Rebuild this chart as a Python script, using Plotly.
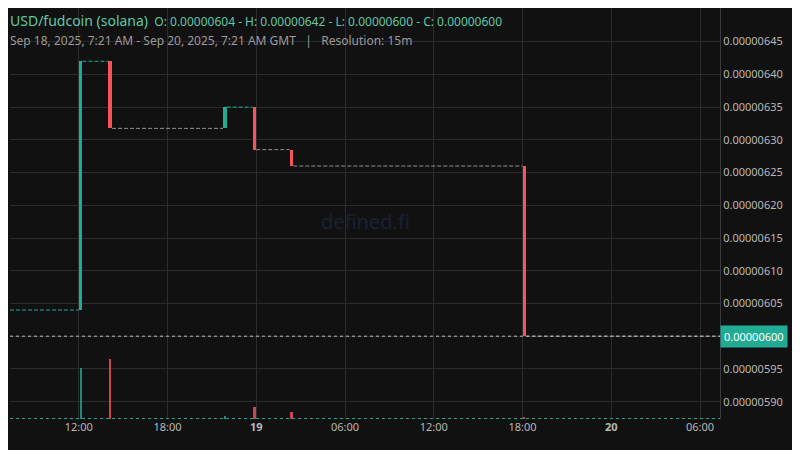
import plotly.graph_objects as go
import pandas as pd

# change candles (15m resolution)
c_time = ["2025-09-18 12:00", "2025-09-18 14:00", "2025-09-18 21:45", "2025-09-18 23:45",
          "2025-09-19 02:15", "2025-09-19 18:00"]
c_open = [6.04e-6, 6.42e-6, 6.3175e-6, 6.35e-6, 6.285e-6, 6.26e-6]
c_close = [6.42e-6, 6.3175e-6, 6.35e-6, 6.285e-6, 6.26e-6, 6.00e-6]
c_vol = [50, 59, 3, 12, 7, 1]

start = "2025-09-18 07:21"
end = "2025-09-20 07:21"
start_price = 6.04e-6

tick_vals = ["2025-09-18 12:00", "2025-09-18 18:00", "2025-09-19 00:00", "2025-09-19 06:00",
             "2025-09-19 12:00", "2025-09-19 18:00", "2025-09-20 00:00", "2025-09-20 06:00"]
tick_text = ["12:00", "18:00", "<b>19</b>", "06:00", "12:00", "18:00", "<b>20</b>", "06:00"]
y_ticks = [5.90e-6, 5.95e-6, 6.00e-6, 6.05e-6, 6.10e-6, 6.15e-6, 6.20e-6, 6.25e-6,
           6.30e-6, 6.35e-6, 6.40e-6, 6.45e-6]

UP = "#22ab94"
DN = "#f7525f"

fig = go.Figure()
bw = 15 * 60 * 1000
ts = pd.to_datetime(c_time)
seg_starts = [pd.Timestamp(start)] + [t + pd.Timedelta(minutes=15) for t in ts]
seg_ends = list(ts) + [pd.Timestamp(end)]
seg_prices = [start_price] + c_close
seg_cols = [UP] + [UP if c > o else "#8a8f98" for o, c in zip(c_open, c_close)]
seg_cols[1] = UP
for s, e, p, col in zip(seg_starts, seg_ends, seg_prices, seg_cols):
    fig.add_trace(go.Scatter(x=[s, e], y=[p, p], mode="lines",
                             line=dict(color=col, width=1, dash="4px,2px"),
                             showlegend=False, hoverinfo="skip"))
cols = [UP if c > o else DN for o, c in zip(c_open, c_close)]
fig.add_trace(go.Bar(x=ts + pd.Timedelta(minutes=7.5), base=c_open,
                     y=[c - o for o, c in zip(c_open, c_close)],
                     width=bw, marker=dict(color=cols, line=dict(width=0)),
                     showlegend=False))
fig.add_trace(go.Bar(x=ts + pd.Timedelta(minutes=7.5), y=c_vol, yaxis="y2",
                     width=bw * 0.6, marker=dict(color=cols, opacity=0.8, line=dict(width=0)),
                     showlegend=False))

fig.add_hline(y=6.00e-6, line=dict(color="#bbbbbb", width=1, dash="dot"))
fig.add_shape(type="line", xref="paper", yref="y2", x0=0, x1=1, y0=0.5, y1=0.5,
              line=dict(color=UP, width=1, dash="dot"))

fig.update_layout(
    width=792, height=442, paper_bgcolor="#111111", plot_bgcolor="#111111",
    margin=dict(l=2, r=80, t=0, b=31, autoexpand=False), bargap=0, barmode="overlay",
    font=dict(family="Noto Sans", color="#b8b8b8", size=11),
    xaxis=dict(range=[start, end], tickvals=tick_vals, ticktext=tick_text,
               gridcolor="#2b2b2b", showline=False, zeroline=False, ticks=""),
    yaxis=dict(side="right", range=[5.8735e-6, 6.5014e-6], tickvals=y_ticks,
               ticktext=[f"{v:.8f}" for v in y_ticks], gridcolor="#2b2b2b",
               zeroline=False, showline=True, linecolor="#3a3a3a", ticks=""),
    yaxis2=dict(overlaying="y", range=[0, 403], visible=False),
)
fig.add_annotation(xref="paper", yref="paper", x=0.5, y=0.48, text="defined.fi",
                   showarrow=False, font=dict(size=20, color="#1c2033"))
fig.add_annotation(xref="paper", yref="y", x=1.0, xanchor="left", y=6.00e-6,
                   text="0.00000600", showarrow=False, bgcolor=UP,
                   font=dict(color="#ffffff", size=11), borderpad=3)
fig.add_annotation(xref="paper", yref="paper", x=0, xanchor="left", y=0.97, yanchor="middle",
                   xshift=-2, showarrow=False,
                   text="<span style='font-size:14px'>USD/fudcoin (solana)</span>  O: 0.00000604 - H: 0.00000642 - L: 0.00000600 - C: 0.00000600",
                   font=dict(color="#5fc8a8", size=12))
fig.add_annotation(xref="paper", yref="paper", x=0, xanchor="left", y=0.92, yanchor="middle",
                   xshift=-2, showarrow=False,
                   text="Sep 18, 2025, 7:21 AM - Sep 20, 2025, 7:21 AM GMT   |   Resolution: 15m",
                   font=dict(color="#9a9a9a", size=12))
fig.write_html("out.html")
